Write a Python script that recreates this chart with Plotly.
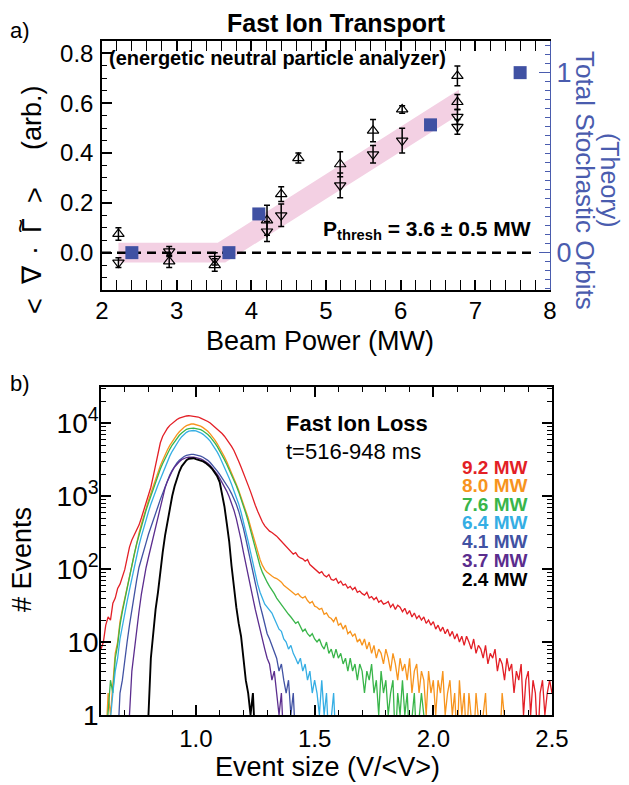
import plotly.graph_objects as go

# ---------------- panel a : fast ion transport (NPA) ----------------
up_power = [2.22, 2.90, 3.51, 4.21, 4.40, 4.63, 5.19, 5.63, 6.02, 6.76, 6.76]
up_flux = [0.075, -0.035, -0.05, 0.13, 0.235, 0.38, 0.355, 0.49, 0.575, 0.71, 0.605]
up_err = [0.025, 0.025, 0.025, 0.06, 0.03, 0.02, 0.05, 0.045, 0.015, 0.04, 0.03]

down_power = [2.22, 2.90, 3.51, 4.21, 4.40, 5.19, 5.63, 6.02, 6.76, 6.76]
down_flux = [-0.04, 0.005, -0.025, 0.085, 0.15, 0.27, 0.395, 0.45, 0.545, 0.505]
down_err = [0.02, 0.02, 0.025, 0.04, 0.045, 0.05, 0.035, 0.05, 0.03, 0.03]

theory_power = [2.4, 3.7, 4.1, 6.4, 7.6]
theory_orbits = [0.0, 0.0, 0.215, 0.71, 1.0]

# threshold guide band (upper edge out, lower edge back)
band_power = [2.22, 3.55, 6.78, 6.78, 3.65, 2.22]
band_flux = [0.04, 0.04, 0.654, 0.554, -0.04, -0.04]
zero_power = [2.0, 7.8]

# ---------------- panel b : fast ion loss histograms ----------------
bin_width = 0.01
beam_labels = ["9.2 MW", "8.0 MW", "7.6 MW", "6.4 MW", "4.1 MW", "3.7 MW", "2.4 MW"]
beam_colors = ["#e31f26", "#f7941d", "#39b54a", "#35aee4", "#4152a3", "#5b2d8e", "#000000"]

red_start = 0.60
red_counts = [8, 10, 17, 22, 20, 34, 40, 54, 62, 78,
              98, 140, 200, 250, 290, 340, 400, 500, 640, 820,
              1000, 1320, 1860, 2630, 3800, 5370, 6600, 7600, 8500, 9300,
              10000, 10600, 11200, 11700, 12000, 12300, 12500, 12600, 12500, 12400,
              12300, 12100, 11700, 11300, 11000, 10500, 10000, 9400, 8900, 8300,
              7800, 7200, 6600, 6000, 5400, 4800, 4200, 3600, 3000, 2500,
              2100, 1750, 1400, 1150, 910, 750, 620, 520, 440, 390,
              355, 330, 316, 300, 282, 260, 240, 222, 204, 190,
              178, 160, 168, 150, 142, 138, 128, 135, 115, 108,
              100, 94, 88, 92, 82, 78, 84, 72, 70, 74,
              64, 68, 60, 62, 55, 58, 52, 56, 48, 50,
              46, 44, 48, 40, 42, 38, 41, 35, 37, 33,
              34, 36, 30, 33, 28, 32, 30, 26, 29, 24,
              27, 22, 25, 21, 23, 20, 22, 18, 20, 17,
              19, 15, 17, 14, 16, 13, 15, 12, 14, 11,
              13, 10, 12, 9, 12, 10, 8, 11, 7, 9,
              8, 6, 9, 5, 7, 6, 8, 4, 6, 5,
              3, 6, 4, 5, 2, 4, 3, 5, 1, 3,
              4, 1, 3, 2, 0, 2, 3, 1, 2, 3,
              2]

orange_start = 0.62
orange_counts = [0, 2, 1, 3, 7, 10, 19, 28,
                 40, 56, 80, 115, 170, 235, 310, 410, 540, 690,
                 870, 1090, 1370, 1750, 2150, 2600, 3100, 3700, 4300, 4950,
                 5600, 6300, 6950, 7600, 8200, 8750, 9200, 9550, 9700, 9700,
                 9550, 9350, 9050, 8650, 8200, 7700, 7100, 6500, 5850, 5200,
                 4600, 4000, 3450, 2950, 2500, 2100, 1750, 1450, 1200, 980,
                 800, 640, 500, 380, 290, 220, 170, 135, 112, 98,
                 90, 84, 80, 76, 74, 70, 66, 60, 56, 52,
                 50, 47, 44, 46, 42, 40, 42, 37, 34, 36,
                 31, 30, 28, 29, 24, 25, 22, 21, 19, 22,
                 17, 18, 15, 17, 13, 14, 12, 13, 10, 11,
                 9, 11, 8, 10, 7, 9, 6, 8, 7, 5,
                 8, 6, 4, 7, 5, 3, 6, 4, 5, 3,
                 6, 2, 4, 5, 2, 4, 3, 1, 4, 2,
                 3, 1, 3, 2, 4, 1, 2, 3, 1, 2,
                 0, 3, 1, 2, 0, 2, 1, 0, 2, 1,
                 0, 1, 2, 0, 1, 0, 0, 1, 0, 2,
                 1, 0, 0, 1, 0, 0]

green_start = 0.62
green_counts = [0, 1, 3, 2, 6, 9, 17, 26,
                38, 52, 75, 110, 160, 220, 290, 380, 500, 640,
                800, 1000, 1250, 1600, 1950, 2350, 2800, 3300, 3850, 4400,
                5000, 5600, 6200, 6800, 7300, 7800, 8200, 8400, 8500, 8500,
                8400, 8300, 8100, 7800, 7400, 6950, 6450, 5900, 5300, 4750,
                4200, 3650, 3150, 2700, 2300, 1950, 1650, 1380, 1140, 920,
                740, 580, 450, 340, 250, 185, 140, 110, 90, 76,
                66, 58, 52, 46, 40, 36, 32, 29, 26, 24,
                22, 20, 18, 19, 16, 14, 15, 13, 12, 13,
                11, 10, 11, 9, 8, 10, 7, 8, 6, 8,
                6, 7, 5, 6, 4, 6, 4, 5, 3, 5,
                4, 2, 4, 3, 5, 2, 3, 1, 4, 2,
                3, 1, 2, 3, 0, 2, 1, 3, 1, 2,
                0, 1, 2, 0, 1, 2, 1, 0, 1, 0,
                1, 0, 0, 1, 0, 1]

lightblue_start = 0.63
lightblue_counts = [0, 1, 2, 4, 6, 11, 17,
                    25, 36, 52, 75, 110, 155, 210, 280, 370, 480,
                    610, 770, 960, 1180, 1420, 1700, 2050, 2500, 3000, 3550,
                    4100, 4700, 5300, 5900, 6500, 7000, 7450, 7750, 7900, 7900,
                    7800, 7600, 7350, 7000, 6600, 6150, 5650, 5100, 4550, 4000,
                    3450, 2950, 2500, 2100, 1750, 1450, 1200, 980, 780, 600,
                    450, 330, 240, 170, 120, 85, 62, 48, 40, 33,
                    30, 27, 25, 21, 18, 15, 14, 11, 10, 8,
                    9, 7, 6, 5, 6, 4, 5, 3, 4, 2,
                    3, 2, 1, 3, 1, 2, 0, 1, 2, 0,
                    1, 0, 1]

blue_start = 0.67
blue_counts = [0, 2, 3,
               6, 10, 17, 28, 45, 70, 105, 140, 180, 230,
               300, 380, 470, 580, 720, 900, 1100, 1350, 1650, 1950,
               2250, 2550, 2850, 3100, 3320, 3480, 3600, 3680, 3720, 3720,
               3680, 3620, 3530, 3400, 3250, 3080, 2880, 2660, 2430, 2200,
               1980, 1780, 1600, 1420, 1250, 1080, 920, 770, 620, 480,
               360, 260, 180, 125, 90, 65, 46, 32, 24, 18,
               13, 11, 9, 7, 6, 4, 5, 3, 2, 3,
               1, 2, 0, 1]

purple_start = 0.71
purple_counts = [0, 1, 4, 8, 16, 26, 45, 70, 105,
                 145, 200, 270, 370, 520, 730, 1000, 1300, 1600, 1900,
                 2200, 2500, 2750, 2950, 3150, 3280, 3370, 3400, 3420, 3400,
                 3350, 3300, 3220, 3120, 2980, 2820, 2630, 2420, 2200, 1980,
                 1760, 1550, 1350, 1160, 980, 800, 640, 490, 360, 250,
                 170, 115, 80, 56, 40, 28, 20, 15, 11, 8,
                 6, 5, 3, 4, 2, 1, 2, 0, 1]

black_start = 0.79
black_counts = [0,
                1, 6, 14, 28, 48, 95, 170, 290, 460, 700,
                1000, 1360, 1760, 2170, 2550, 2870, 3100, 3250, 3300, 3300,
                3200, 3150, 3080, 2980, 2850, 2700, 2520, 2320, 2100, 1850,
                1550, 1100, 720, 420, 240, 110, 52, 30, 18, 12,
                6, 3, 2, 1, 2, 0]

loss_starts = [red_start, orange_start, green_start, lightblue_start,
               blue_start, purple_start, black_start]
loss_counts = [red_counts, orange_counts, green_counts, lightblue_counts,
               blue_counts, purple_counts, black_counts]

FONT = "Liberation Sans, Arial, Helvetica, sans-serif"
AXBLUE = "#4a5cae"
SQBLUE = "#4051a3"
PINK = "#f3d0e3"

# the page body keeps its default 8px margin: positions below are page pixels,
# shifted back by that margin; the figure is left full size so nothing is clipped
PAGE_MARGIN = 8
W, H = 629, 785


def px(x):
    return (x - PAGE_MARGIN) / W


def py(y):
    return 1 - (y - PAGE_MARGIN) / H


fig = go.Figure()

# panel a
fig.add_trace(go.Scatter(x=band_power, y=band_flux, mode="lines", fill="toself",
                         fillcolor=PINK, line=dict(width=0), hoverinfo="skip",
                         xaxis="x", yaxis="y"))
fig.add_trace(go.Scatter(x=zero_power, y=[0, 0], mode="lines",
                         line=dict(color="black", width=2.5, dash="9px,6px"),
                         xaxis="x", yaxis="y"))
fig.add_trace(go.Scatter(x=theory_power, y=theory_orbits, mode="markers",
                         marker=dict(symbol="square", size=13, color=SQBLUE),
                         xaxis="x", yaxis="y3"))
fig.add_trace(go.Scatter(x=up_power, y=up_flux, mode="markers",
                         marker=dict(symbol="triangle-up-open", size=10, color="black",
                                     line=dict(width=1.2, color="black")),
                         error_y=dict(type="data", array=up_err, color="black",
                                      thickness=1.5, width=3),
                         xaxis="x", yaxis="y"))
fig.add_trace(go.Scatter(x=down_power, y=down_flux, mode="markers",
                         marker=dict(symbol="triangle-down-open", size=10, color="black",
                                     line=dict(width=1.2, color="black")),
                         error_y=dict(type="data", array=down_err, color="black",
                                      thickness=1.5, width=3),
                         xaxis="x", yaxis="y"))

# panel b
for start, counts, color in zip(loss_starts, loss_counts, beam_colors):
    xs = [round(start + i * bin_width, 2) for i in range(len(counts))]
    ys = [c if c > 0 else 0.4 for c in counts]
    fig.add_trace(go.Scatter(x=xs, y=ys, mode="lines",
                             line=dict(color=color, width=1.9 if color == "#000000" else 1.3),
                             xaxis="x2", yaxis="y2"))

axis_common = dict(showline=True, linecolor="black", linewidth=1.5, showgrid=False,
                   zeroline=False, ticks="inside", ticklen=10, tickwidth=1.5,
                   tickcolor="black", automargin=False,
                   tickfont=dict(family=FONT, size=24, color="black"))

log_minor = [m * 10 ** d for d in range(5) for m in range(2, 10)]
orbit_range = [-0.2075, 1.1758]

fig.update_layout(
    width=W, height=H, autosize=False, showlegend=False,
    margin=dict(l=0, r=0, t=0, b=0),
    paper_bgcolor="white", plot_bgcolor="white",
    font=dict(family=FONT, color="black"),
    xaxis=dict(axis_common, domain=[px(102), px(550)], anchor="y", range=[2, 8],
               dtick=1, tick0=0, mirror="allticks", ticklabelstandoff=-2,
               minor=dict(dtick=0.2, ticklen=5, tickwidth=1.2, ticks="inside",
                          tickcolor="black")),
    yaxis=dict(axis_common, domain=[py(290), py(41)], anchor="x", range=[-0.15, 0.85],
               dtick=0.2, tick0=0, tickformat=".1f", mirror=False, ticklabelstandoff=2,
               minor=dict(dtick=0.05, ticklen=5, tickwidth=1.2, ticks="inside",
                          tickcolor="black")),
    yaxis3=dict(overlaying="y", side="right", anchor="x", range=orbit_range,
                showline=True, linecolor=AXBLUE, linewidth=1.3, showgrid=False,
                zeroline=False, ticks="inside", ticklen=11, tickwidth=1.3,
                tickcolor=AXBLUE, tickvals=[0, 1], ticktext=["0", "1"],
                automargin=False, ticklabelstandoff=0,
                tickfont=dict(family=FONT, size=27, color=AXBLUE),
                minor=dict(dtick=0.05, tick0=0, ticklen=5, tickwidth=1.1,
                           ticks="inside", tickcolor=AXBLUE)),
    yaxis4=dict(overlaying="y", side="right", anchor="x", range=orbit_range,
                showline=False, showgrid=False, zeroline=False, ticks="inside",
                ticklen=8, tickwidth=1.2, tickcolor=AXBLUE, showticklabels=False,
                tickvals=[-0.2, 0.2, 0.4, 0.6, 0.8], automargin=False),
    xaxis2=dict(axis_common, domain=[px(101), px(552)], anchor="y2", range=[0.6, 2.5],
                dtick=0.5, tick0=0, tickformat=".1f", mirror="allticks",
                ticklabelstandoff=1,
                minor=dict(dtick=0.1, tick0=0, ticklen=5, tickwidth=1.2,
                           ticks="inside", tickcolor="black")),
    yaxis2=dict(axis_common, domain=[py(715), py(387)], anchor="x2", type="log",
                range=[0, 4.494], tickvals=[1, 10, 100, 1000, 10000],
                ticktext=["1", "10", "10<sup>2</sup>", "10<sup>3</sup>", "10<sup>4</sup>"],
                mirror="allticks", ticklabelstandoff=-5,
                tickfont=dict(family=FONT, size=28, color="black"),
                minor=dict(tickmode="array", tickvals=log_minor, ticklen=5,
                           tickwidth=1.2, ticks="inside", tickcolor="black")),
)

ann = []


def add_text(text, x, y, size, xanchor="center", yanchor="middle", angle=0,
             color="black"):
    ann.append(dict(text=text, x=px(x), y=py(y), xref="paper", yref="paper",
                    xanchor=xanchor, yanchor=yanchor, textangle=angle,
                    showarrow=False, font=dict(family=FONT, size=size, color=color)))


add_text("a)", 8, 31, 22, xanchor="left")
add_text("<b>Fast Ion Transport</b>", 336, 23, 25)
add_text("<b>(energetic neutral particle analyzer)</b>", 107, 58, 20, xanchor="left")
add_text("<b>P<sub>thresh</sub> = 3.6 \u00b1 0.5 MW</b>", 533, 230, 21, xanchor="right")

# left axis title of panel a, laid out glyph by glyph (rotated)
title_parts = ["<", "\u2207", "\u00b7", "\u0393", ">", "(arb.)"]
title_part_x = [35, 32, 34, 32, 35, 32]
title_part_y = [306, 275, 250, 226, 195, 118]
for part, tx, ty in zip(title_parts, title_part_x, title_part_y):
    add_text(part, tx, ty, 27, angle=-90)
add_text("~", 21, 226, 24, angle=-90)

add_text("Total Stochastic Orbits", 585, 180, 26, angle=90, color=AXBLUE)
add_text("(Theory)", 610, 180, 25, angle=90, color=AXBLUE)
add_text("Beam Power (MW)", 320, 341, 27)

add_text("b)", 8, 383, 22, xanchor="left")
add_text("<b>Fast Ion Loss</b>", 284, 423, 22, xanchor="left")
add_text("t=516-948 ms", 284, 451, 22, xanchor="left")
legend_y = [467, 485, 504, 522, 541, 560, 579]
for label, color, ly in zip(beam_labels, beam_colors, legend_y):
    add_text("<b>" + label + "</b>", 530, ly, 19, xanchor="right", color=color)
add_text("# Events", 22, 560, 27, angle=-90)
add_text("Event size (V/<V>)", 327, 767, 27)

fig.update_layout(annotations=ann)
fig.write_html("out.html")
